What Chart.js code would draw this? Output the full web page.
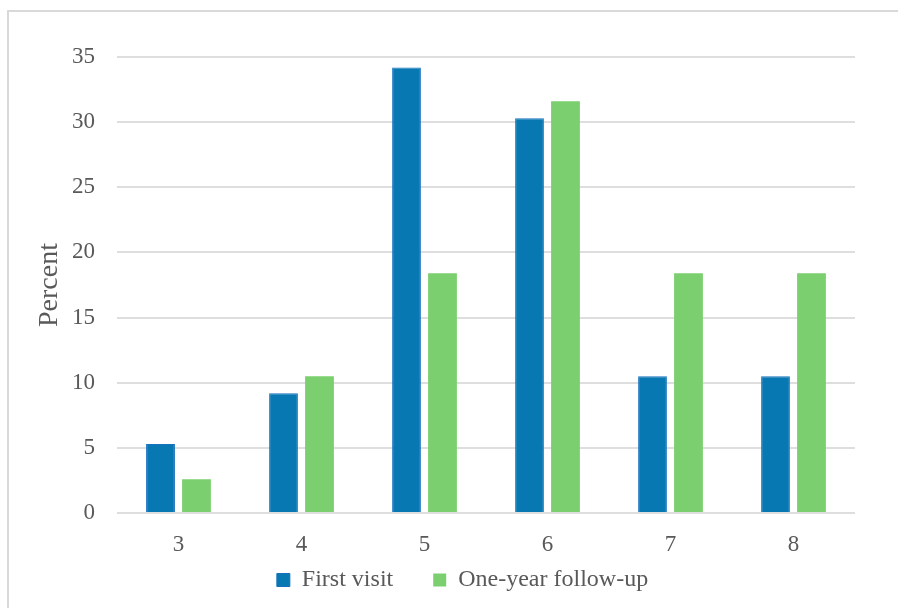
<!DOCTYPE html>
<html>
<head>
<meta charset="utf-8">
<script src="https://cdn.jsdelivr.net/npm/chart.js@4/dist/chart.umd.min.js"></script>
<style>
  html, body { margin: 0; padding: 0; background: #fff; overflow: hidden; }
  .frame {
    position: absolute; left: 7px; top: 10px; width: 1000px; height: 700px;
    border: 2px solid #d9d9d9; box-sizing: border-box;
  }
  #grafico { position: absolute; left: 0; top: 0; }
</style>
</head>
<body>
<div class="frame"></div>
<canvas id="grafico" width="898" height="608"></canvas>
<script>
// categorias e séries
const categorias = ["3", "4", "5", "6", "7", "8"];
const primeiraVisita = [5.3, 9.2, 34.2, 30.3, 10.5, 10.5];
const seguimentoUmAno = [2.6, 10.5, 18.4, 31.6, 18.4, 18.4];
const tituloEixoY = "Percent";
const nomesSeries = ["First visit", "One-year follow-up"];

const corTexto = "#595959";
const fonte = "'Liberation Serif', 'Times New Roman', serif";

// a legenda não ocupa espaço no layout; aqui a caixa dela é reposicionada
// (o padding grande dá o espaço horizontal entre os itens)
const ajusteLegenda = {
  id: "ajusteLegenda",
  afterLayout(chart) {
    const lg = chart.legend;
    if (!lg) return;
    lg.top = 528;
    lg.bottom = chart.height;
    lg.height = lg.bottom - lg.top;
  }
};

new Chart(document.getElementById("grafico"), {
  type: "bar",
  data: {
    labels: categorias,
    datasets: [
      {
        label: nomesSeries[0],
        data: primeiraVisita,
        backgroundColor: "#0878B3",
        borderColor: "#1672BE",
        borderWidth: 1,
        categoryPercentage: 0.585,
        barPercentage: 0.8
      },
      {
        label: nomesSeries[1],
        data: seguimentoUmAno,
        backgroundColor: "#7BCF6E",
        categoryPercentage: 0.585,
        barPercentage: 0.8
      }
    ]
  },
  plugins: [ajusteLegenda],
  options: {
    responsive: false,
    animation: false,
    layout: { padding: { left: 70, right: 43, top: 57, bottom: 51.4 } },
    plugins: {
      tooltip: { enabled: false },
      legend: {
        position: "bottom",
        maxHeight: 1,
        labels: {
          color: corTexto,
          font: { family: fonte, size: 24 },
          boxWidth: 13,
          boxHeight: 13,
          padding: 40
        }
      }
    },
    scales: {
      x: {
        grid: { display: false },
        border: { display: false },
        ticks: { color: corTexto, font: { family: fonte, size: 23 }, padding: 10 },
        afterFit: (s) => { s.height = 42.6; }
      },
      y: {
        min: 0,
        max: 35,
        ticks: { stepSize: 5, color: corTexto, font: { family: fonte, size: 23 }, padding: 22 },
        grid: { color: "#dedede", lineWidth: 2, drawTicks: false },
        border: { display: false },
        title: {
          display: true,
          text: tituloEixoY,
          color: corTexto,
          font: { family: fonte, size: 28 },
          padding: { top: -36.8, bottom: 0 }
        },
        afterFit: (s) => { s.width = 47; }
      }
    }
  }
});
</script>
</body>
</html>
